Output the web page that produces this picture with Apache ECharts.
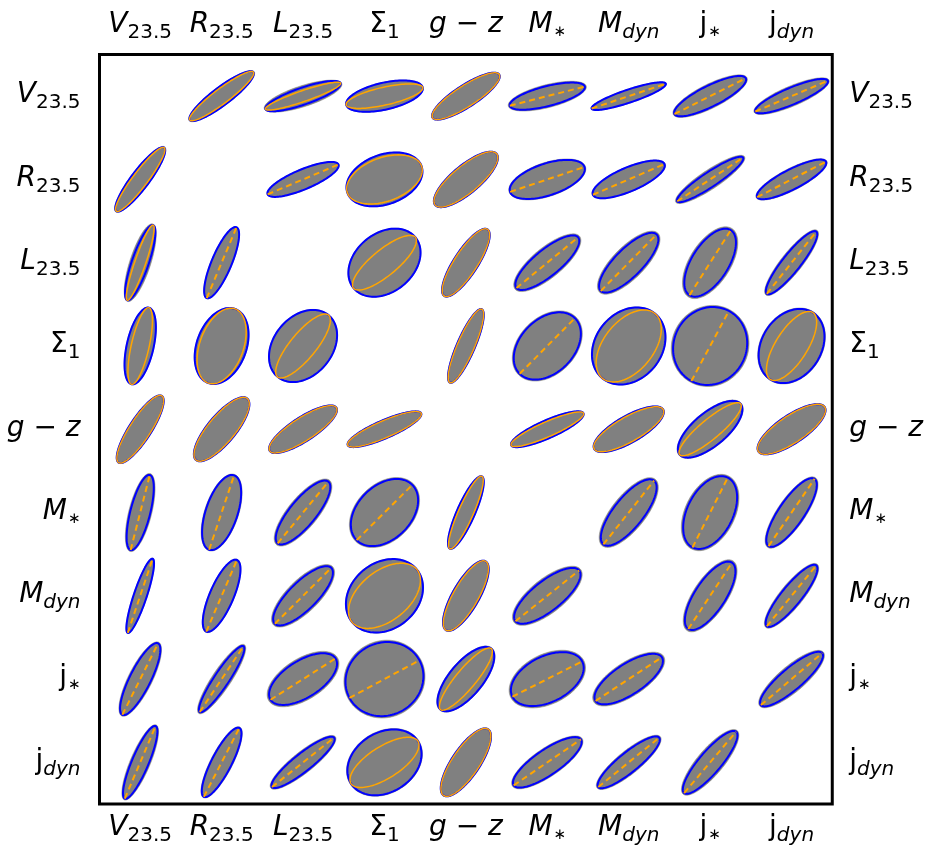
<!DOCTYPE html>
<html><head><meta charset="utf-8">
<script src="https://cdn.jsdelivr.net/npm/echarts@6/dist/echarts.min.js"></script>
<style>html,body{margin:0;padding:0;background:#fff}#c{width:926px;height:854px}</style>
</head><body><div id="c"></div>
<script>
// Variable tick labels (rich text: i = italic, u = upright, s = subscript, si = italic subscript, a = subscript asterisk)
const tickLabels = [
  '{i|V}{s|23.5}',
  '{i|R}{s|23.5}',
  '{i|L}{s|23.5}',
  '{u|Σ}{s|1}',
  '{i|g}{u| − }{i|z}{s|\u200b}',
  '{i|M}{a|∗}',
  '{i|M}{si|dyn}',
  '{u|j}{a|∗}',
  '{u|j}{si|dyn}'
];

// Pairs (upper triangle: row < col). Ellipse sizes are in 1/82 of a cell.
const pairRow = [0,0,0,0,0,0,0,0, 1,1,1,1,1,1,1, 2,2,2,2,2,2, 3,3,3,3,3, 4,4,4,4, 5,5,5, 6,6, 7];
const pairCol = [1,2,3,4,5,6,7,8, 2,3,4,5,6,7,8, 3,4,5,6,7,8, 4,5,6,7,8, 5,6,7,8, 6,7,8, 7,8, 8];
const semiMajor   = [40,40,39.5,40,39,39.4,40.2,39.7, 38.7,39.7,40.3,39.5,39.2,39.8,39, 40.3,40,40.2,40,38.8,40, 40.3,39.5,42,40,39.9, 39.8,40,39.9,40.2, 41,39.4,41, 40,39.5, 40.5];
const blueMinor   = [9,8.5,13.5,11,10,6.5,10.5,8.4, 10,25,14,16,12,7.5,10, 29.5,12,13.2,14,18.5,9, 9,27,33.3,36.5,30, 9,13.3,16.7,14, 15,23,12.7, 15.3,10, 11];
const orangeMinor = [7.5,5.5,9,10.5,0,0,0,0, 0,22,13.5,0,0,0,0, 13,11.5,0,0,0,0, 8.5,0,25,0,16, 7.5,12.5,10,13.5, 0,0,0, 0,0, 0];
const angleDeg    = [37,19,12.7,33,14.3,18.5,26.6,23, 22.8,20,39.8,18.5,23.2,33.6,27.3, 39.5,57,39.4,45.3,57.6,51.5, 66.6,45.2,51,61.8,57.6, 23.8,29.8,39.8,34, 51.5,63.2,55.6, 56.6,50.9, 40.3];
const grayMajor   = [41,41,40,40.5,40.5,40,41.5,41, 39.2,40,40.8,40.5,40,41.5,40, 40.8,40.5,42,41.8,40.8,41.5, 40.8,41,42.5,41.5,40.8, 40.3,40.5,40.8,40.7, 42.8,41.2,42.5, 42,41, 42];
const grayMinor   = [9.5,10.5,14,11.5,11.5,7,12,10, 10.5,25.5,14.5,17,12.5,9.5,11, 30,12.5,15,16,20.5,10.5, 9.5,28.5,34,38.5,31, 9.5,14,17.5,14.5, 17,25,14, 17,11.5, 13];
const grayAngle   = [37,18,12.7,33,14.3,18.5,26.6,23, 22.8,20,39.8,18.5,23.2,33.6,27.3, 39.5,57,39.4,45.3,57.6,51.5, 66.6,45.2,51,61.8,57.6, 23.8,29.8,39.8,34, 51.5,63.2,55.6, 56.6,50.9, 40.3];

const UNITS_PER_CELL = 82;

// Build cell data: upper cell (x = col, y = row) and transposed lower cell
const cells = [];
for (let k = 0; k < pairRow.length; k++) {
  const r = pairRow[k], c = pairCol[k];
  cells.push([c, r, semiMajor[k], blueMinor[k], orangeMinor[k], angleDeg[k], grayMajor[k], grayMinor[k], grayAngle[k]]);
  cells.push([r, c, semiMajor[k], blueMinor[k], orangeMinor[k], 90 - angleDeg[k], grayMajor[k], grayMinor[k], 90 - grayAngle[k]]);
}

const FONT = 'DejaVu Sans';
const rich = {
  i:  {fontFamily: FONT, fontStyle: 'italic', fontSize: 28, lineHeight: 30, verticalAlign: 'top', color: '#000'},
  u:  {fontFamily: FONT, fontStyle: 'normal', fontSize: 28, lineHeight: 30, verticalAlign: 'top', color: '#000'},
  s:  {fontFamily: FONT, fontStyle: 'normal', fontSize: 20, lineHeight: 22, padding: [12,0,0,0], verticalAlign: 'top', color: '#000'},
  si: {fontFamily: FONT, fontStyle: 'italic', fontSize: 20, lineHeight: 22, padding: [12,0,0,0], verticalAlign: 'top', color: '#000'},
  a:  {fontFamily: FONT, fontStyle: 'normal', fontSize: 15, lineHeight: 16, padding: [14,0,0,1], verticalAlign: 'top', color: '#000'}
};

function catAxis(pos, margin, extra) {
  return Object.assign({
    type: 'category', data: tickLabels, position: pos, boundaryGap: true,
    axisLine: {show: false}, axisTick: {show: false}, splitLine: {show: false},
    axisLabel: {show: true, rich: rich, margin: margin, interval: 0}
  }, extra || {});
}

function ellipsePts(cx, cy, a, b, t) {
  const out = [];
  const n = 120;
  for (let k = 0; k < n; k++) {
    const p = 2 * Math.PI * k / n;
    const u = a * Math.cos(p), v = b * Math.sin(p);
    out.push([cx + u * Math.cos(t) - v * Math.sin(t), cy - (u * Math.sin(t) + v * Math.cos(t))]);
  }
  return out;
}

const chart = echarts.init(document.getElementById('c'), null, {renderer: 'canvas'});
chart.setOption({
  animation: false,
  backgroundColor: '#fff',
  grid: {left: 99.5, right: 91.8, top: 54.5, bottom: 50, show: true, borderColor: '#000', borderWidth: 3, backgroundColor: 'transparent', containLabel: false},
  xAxis: [catAxis('bottom', 10), catAxis('top', 14)],
  yAxis: [catAxis('left', 19, {inverse: true}), catAxis('right', 17, {inverse: true})],
  series: [{
    type: 'custom',
    xAxisIndex: 0, yAxisIndex: 0,
    encode: {x: 0, y: 1},
    data: cells,
    renderItem: function (params, api) {
      const c = api.coord([api.value(0), api.value(1)]);
      const size = api.size([1, 1]);
      const s = size[0] / UNITS_PER_CELL;
      const a = api.value(2) * s, bB = api.value(3) * s, bO = api.value(4) * s;
      const th = api.value(5) * Math.PI / 180;
      const aG = api.value(6) * s, bG = api.value(7) * s, thG = api.value(8) * Math.PI / 180;
      const children = [
        {type: 'polygon', shape: {points: ellipsePts(c[0], c[1], aG, bG, thG)}, style: {fill: '#808080', stroke: 'rgba(128,128,128,0.5)', lineWidth: 1}},
        {type: 'polygon', shape: {points: ellipsePts(c[0], c[1], a, bB, th)}, style: {fill: 'transparent', stroke: '#0000ff', lineWidth: 2}}
      ];
      if (api.value(4) > 0) {
        children.push({type: 'polygon', shape: {points: ellipsePts(c[0], c[1], a, bO, th)}, style: {fill: 'transparent', stroke: '#ffa500', lineWidth: 1.5}});
      } else {
        children.push({type: 'line', shape: {x1: c[0] - a * Math.cos(th), y1: c[1] + a * Math.sin(th), x2: c[0] + a * Math.cos(th), y2: c[1] - a * Math.sin(th)},
          style: {stroke: '#ffa500', lineWidth: 2, lineDash: [6, 4]}});
      }
      return {type: 'group', children: children};
    }
  }]
});
</script>
</body></html>
